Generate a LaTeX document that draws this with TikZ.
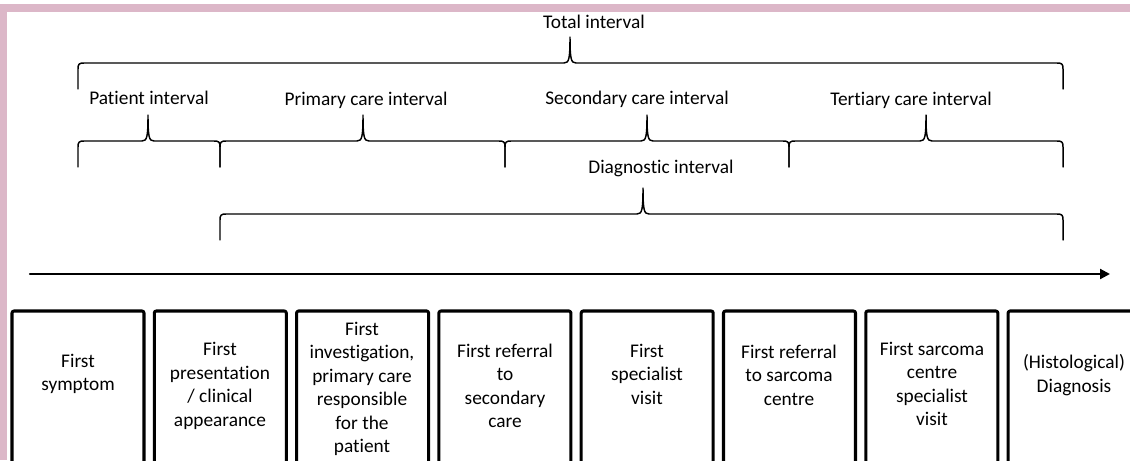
\documentclass[tikz,border=0pt]{standalone}
\usepackage{fontspec}
\setmainfont{Carlito}[Ligatures=NoCommon]
\usetikzlibrary{arrows.meta}
\definecolor{rim}{HTML}{DCB7C8}

% bracket: left end, right end, tip, height of the bar
\newcommand{\intbrace}[4]{%
  \draw[brc] (#1,#4+26) -- (#1,#4+6) .. controls (#1,#4+1) and (#1+1,#4) .. (#1+6,#4)
    -- (#3-6,#4) .. controls (#3-1,#4) and (#3,#4-4) .. (#3,#4-26)
    .. controls (#3,#4-4) and (#3+1,#4) .. (#3+6,#4)
    -- (#2-6,#4) .. controls (#2-1,#4) and (#2,#4+1) .. (#2,#4+6) -- (#2,#4+26);}

\begin{document}
\begin{tikzpicture}[line cap=round,line join=round,x=0.75pt,y=-0.75pt,
  brc/.style={line width=1.1pt},
  lbl/.style={font=\fontsize{14.5}{17.6}\selectfont},
  stage/.style={align=center,font=\fontsize{14.5}{17.6}\selectfont},
  frame/.style={line width=2.3pt,rounded corners=1.5pt}]
		\useasboundingbox (0,0) rectangle (1130,460);
		\clip (0,0) rectangle (1130,460);
		% cadre
		\fill[rim] (0,4) rectangle (1130,12);
		\fill[rim] (0,4) rectangle (7,460);
		% intervalle total
		\node[lbl] (tot) at (594,22) {Total interval};
		\intbrace{78}{1063}{570}{63}
		% intervalles partiels
		\node[lbl] (pat) at (149,98) {Patient interval};
		\node[lbl] (pri) at (366,100) {Primary care interval};
		\node[lbl] (sec) at (637,99) {Secondary care interval};
		\node[lbl] (ter) at (911,100) {Tertiary care interval};
		\intbrace{78}{220}{148}{141}
		\intbrace{220}{505}{363}{141}
		\intbrace{505}{789}{647}{141}
		\intbrace{789}{1063}{926}{141}
		% intervalle diagnostique
		\node[lbl] (dia) at (661,168) {Diagnostic interval};
		\intbrace{220}{1063}{643}{214}
		% axe du temps
		\coordinate (t0) at (30,274);
		\coordinate (t1) at (1110,274);
		\draw[line width=1.6pt,-{Triangle[length=7.5pt,width=7.5pt]}] (t0) -- (t1);
		% etapes
		\foreach \i in {0,...,7}
			\draw[frame] (12+142.3*\i,311) rectangle +(132,200);
		\node[stage] (st1) at (78,374) {First\\symptom};
		\node[stage] (st2) at (220,386) {First\\presentation\\/ clinical\\appearance};
		\node[stage] (st3) at (362,389) {First\\investigation,\\primary care\\responsible\\for the\\patient};
		\node[stage] (st4) at (505,386) {First referral\\to\\secondary\\care};
		\node[stage] (st5) at (647,374) {First\\specialist\\visit};
		\node[stage] (st6) at (789,375) {First referral\\to sarcoma\\centre};
		\node[stage] (st7) at (932,384) {First sarcoma\\centre\\specialist\\visit};
		\node[stage] (st8) at (1074,375) {(Histological)\\Diagnosis};
\end{tikzpicture}
\end{document}
